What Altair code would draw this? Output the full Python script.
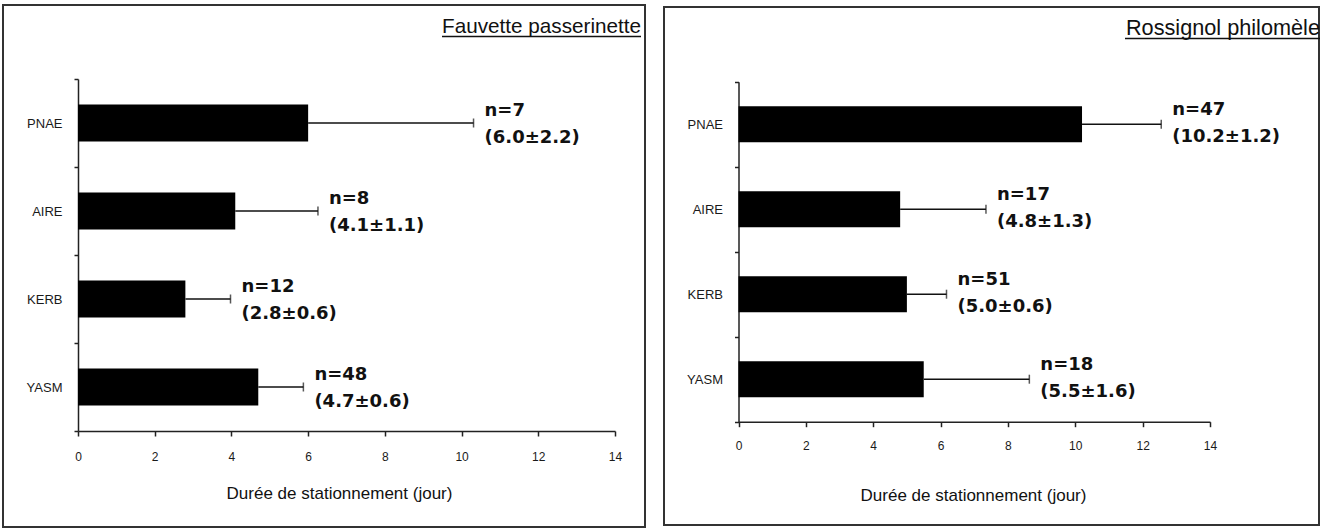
import altair as alt
import pandas as pd

# Sites, top to bottom
sites = ["PNAE", "AIRE", "KERB", "YASM"]

# Sylvia communis
fauvette_title = "Fauvette passerinette"
fauvette_n = [7, 8, 12, 48]
fauvette_mean = [6.0, 4.1, 2.8, 4.7]
fauvette_se = [2.2, 1.1, 0.6, 0.6]

# Luscinia megarhynchos
rossignol_title = "Rossignol philomèle"
rossignol_n = [47, 17, 51, 18]
rossignol_mean = [10.2, 4.8, 5.0, 5.5]
rossignol_se = [1.2, 1.3, 0.6, 1.6]

x_ticks = [0, 2, 4, 6, 8, 10, 12, 14]
x_title = "Durée de stationnement (jour)"

Z95 = 1.96  # whiskers reach the upper 95% confidence limit

FONT = "Liberation Sans, Arial, sans-serif"
BOLD_FONT = "DejaVu Sans, Verdana, sans-serif"
INK = "#111111"


def panel(title, n, mean, se, box_w, box_h, x_range, y_range,
          label_pad, title_x, title_y, under_x, head_size, bar_size, text_dy):
    df = pd.DataFrame({"site": sites, "n": n, "mean": mean, "se": se})
    df["hi"] = df["mean"] + Z95 * df["se"]
    df["label"] = [f"n={k}\n({m:.1f}±{s:.1f})" for k, m, s in zip(n, mean, se)]

    x_scale = alt.Scale(domain=[0, 14], range=x_range, nice=False, zero=True)
    y_scale = alt.Scale(domain=sites, range=y_range, paddingInner=0, paddingOuter=0)

    x_axis = alt.Axis(
        values=x_ticks, format="d", offset=-(box_h - y_range[1]),
        tickSize=5, labelPadding=label_pad, labelFlush=False, labelOverlap=False,
        labelFontSize=12, title=x_title, titleFontSize=17, titleFontWeight="normal",
        titleX=title_x, titleY=title_y, titleBaseline="middle", titleAnchor="middle",
        grid=False,
    )
    y_axis = alt.Axis(
        offset=-x_range[0], tickBand="extent", tickSize=4, labelPadding=12,
        labelFontSize=13, title=None, grid=False,
    )

    base = alt.Chart(df)
    y_enc = alt.Y("site:N", scale=y_scale, axis=y_axis, sort=sites)

    bars = base.mark_bar(color="#000000", size=bar_size).encode(
        x=alt.X("mean:Q", scale=x_scale, axis=x_axis),
        y=y_enc,
    )
    whisker = base.mark_rule(color=INK, strokeWidth=1.5).encode(
        x="mean:Q", x2="hi:Q", y=alt.Y("site:N", sort=sites)
    )
    cap = base.mark_tick(color=INK, orient="vertical", size=9, thickness=1.5).encode(
        x="hi:Q", y=alt.Y("site:N", sort=sites)
    )
    # two-line annotation: sample size, then mean ± standard error
    labels = base.mark_text(
        align="left", baseline="middle", dx=11, dy=text_dy, lineBreak="\n",
        lineHeight=27, font=BOLD_FONT, fontWeight="bold", fontSize=18, color=INK,
    ).encode(x="hi:Q", y=alt.Y("site:N", sort=sites), text="label:N")

    head = pd.DataFrame({"t": [title]})
    heading = alt.Chart(head).mark_text(
        align="right", baseline="alphabetic", font=FONT, fontSize=head_size, color=INK,
    ).encode(x=alt.value(under_x[1]), y=alt.value(28), text="t:N")
    underline = alt.Chart(head).mark_rule(color=INK, strokeWidth=1.5).encode(
        x=alt.value(under_x[0]), x2=alt.value(under_x[1]), y=alt.value(31.5)
    )

    return alt.layer(bars, whisker, cap, labels, heading, underline).properties(
        width=box_w, height=box_h
    )


left = panel(fauvette_title, fauvette_n, fauvette_mean, fauvette_se,
             box_w=642, box_h=522, x_range=[75, 612], y_range=[74, 426],
             label_pad=15, title_x=336, title_y=62, under_x=(439, 638),
             head_size=20.7, bar_size=37, text_dy=-12.5)
right = panel(rossignol_title, rossignol_n, rossignol_mean, rossignol_se,
              box_w=655, box_h=518, x_range=[74.5, 546], y_range=[74.7, 414.7],
              label_pad=14, title_x=309, title_y=74, under_x=(461, 656),
              head_size=21.7, bar_size=36, text_dy=-14)

chart = (
    alt.hconcat(left, right, spacing=19, bounds="flush", center=True)
    .properties(padding={"left": 2, "top": -2, "right": 0, "bottom": 0})
    .configure_view(stroke="#333333", strokeWidth=2)
    .configure_axis(
        labelFont=FONT, titleFont=FONT, labelColor="#1a1a1a", titleColor=INK,
        domainColor="#222222", tickColor="#222222", domainWidth=1.5, tickWidth=1.5,
    )
)

chart.save("out.html", embed_options={"renderer": "svg", "actions": False})
